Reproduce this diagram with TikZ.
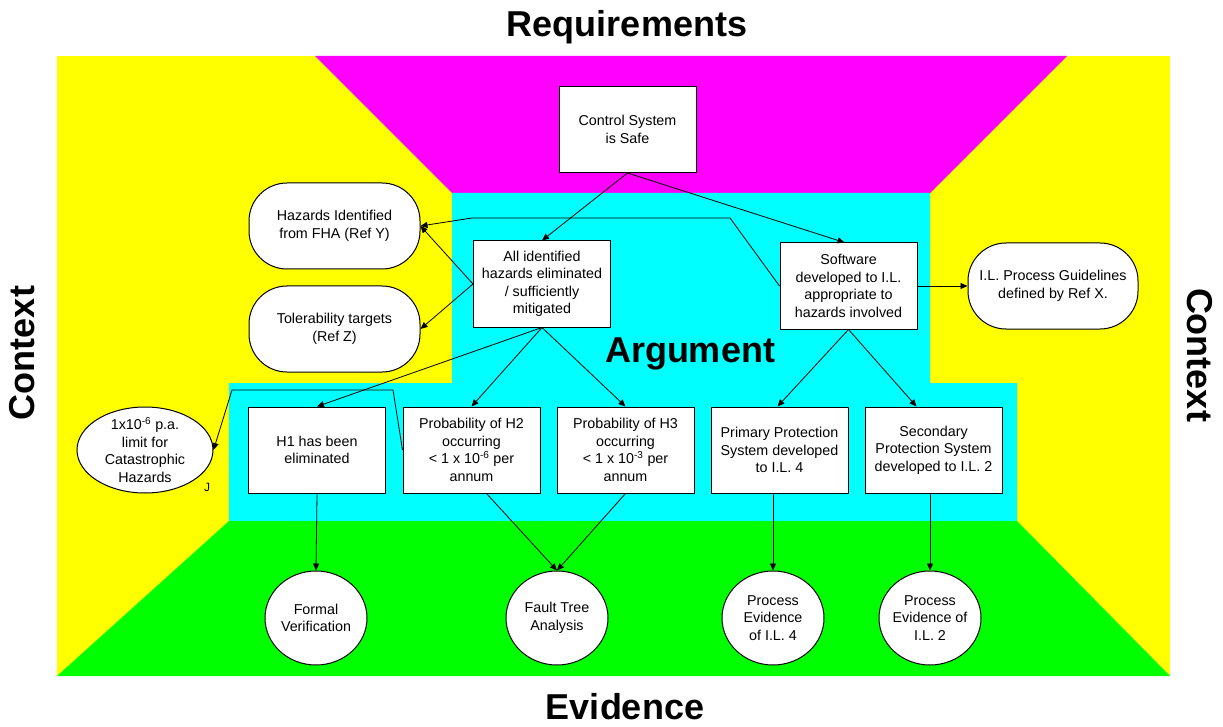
\documentclass[tikz,border=0pt]{standalone}
\usepackage{fontspec}
\setmainfont{Liberation Sans}
\usetikzlibrary{arrows.meta,calc,shapes.geometric}
\newcommand\boxfont{\fontsize{14.3}{17.5}\selectfont}
\newcommand\bigtitlefont{\fontsize{36}{40}\selectfont\bfseries}
\definecolor{cyellow}{RGB}{255,255,0}
\definecolor{cmagenta}{RGB}{255,0,255}
\definecolor{ccyan}{RGB}{0,255,255}
\definecolor{cgreen}{RGB}{0,255,0}
\begin{document}
\begin{tikzpicture}[x=1pt,y=-1pt,
  box/.style={draw=black, line width=1pt, fill=white, minimum width=137pt, minimum height=86pt, inner sep=2pt, align=center, font=\boxfont},
  ctx/.style={box, rounded corners=38pt, minimum width=171pt},
  ell/.style={draw=black, line width=1pt, fill=white, ellipse, align=center, font=\boxfont, inner xsep=0pt, inner ysep=-3pt, minimum width=136pt, minimum height=86pt},
  evid/.style={draw=black, line width=1pt, fill=white, ellipse, align=center, font=\boxfont, inner xsep=-3pt, inner ysep=0pt, minimum width=102pt, minimum height=94pt},
  conn/.style={draw=black, line width=0.8pt, -{Triangle[length=7pt,width=6pt]}},
  bigtitle/.style={font=\bigtitlefont, inner sep=0pt}
]
\useasboundingbox (0,0) rectangle (1223,727);
\fill[white] (0,0) rectangle (1223,727);
% background regions
\fill[cyellow] (57,56) rectangle (1170,676);
\fill[cmagenta] (315,56) -- (1067,56) -- (930,193) -- (452,193) -- cycle;
\fill[ccyan] (452,193) -- (930,193) -- (930,383) -- (1017,383) -- (1017,521) -- (229,521) -- (229,383) -- (452,383) -- cycle;
\fill[cgreen] (229,521) -- (1017,521) -- (1170,676) -- (57,676) -- cycle;
% titles
\node[bigtitle, anchor=base] (treq) at (627,37) {Requirements};
\node[bigtitle, anchor=base] (tevi) at (625,719) {Evidence};
\node[bigtitle, anchor=base] (targ) at (690,362) {Argument};
\node[bigtitle, rotate=90] (tctxl) at (22,353) {Context};
\node[bigtitle, rotate=-90] (tctxr) at (1200,355) {Context};
% goal nodes
\node[box] (ctrl) at (627.5,129.5) {Control System\\is Safe};
\node[box] (all) at (542,284) {All identified\\hazards eliminated\\/ sufficiently\\mitigated};
\node[box] (sw) at (848.5,286) {Software\\developed to I.L.\\appropriate to\\hazards involved};
% context nodes
\node[ctx] (haz) at (334.5,226) {Hazards Identified\\from FHA (Ref Y)};
\node[ctx] (tol) at (334.5,329) {Tolerability targets\\(Ref Z)};
\node[ctx, minimum width=170pt] (ilp) at (1053,286) {I.L. Process Guidelines\\defined by Ref X.};
\node[ell] (lim) at (145,450) {1x10\textsuperscript{-6} p.a.\\limit for\\Catastrophic\\Hazards};
\node[font=\fontsize{12}{14}\selectfont, inner sep=0pt] (jlab) at (207,487) {J};
% sub-goals
\node[box] (h1) at (317,450) {H1 has been\\eliminated};
\node[box] (h2) at (471.5,450) {Probability of H2\\occurring\\< 1 x 10\textsuperscript{-6} per\\annum};
\node[box] (h3) at (625.5,450) {Probability of H3\\occurring\\< 1 x 10\textsuperscript{-3} per\\annum};
\node[box] (prim) at (779.5,450) {Primary Protection\\System developed\\to I.L. 4};
\node[box] (sec) at (933.5,450) {Secondary\\Protection System\\developed to I.L. 2};
% evidence
\node[evid] (fv) at (316,618) {Formal\\Verification};
\node[evid] (fta) at (557,618) {Fault Tree\\Analysis};
\node[evid] (pe4) at (773,618) {Process\\Evidence\\of I.L. 4};
\node[evid] (pe2) at (930,618) {Process\\Evidence of\\I.L. 2};
% connectors
\draw[conn] (ctrl.south) -- (all.north);
\draw[conn] (ctrl.south) -- ($(sw.north)+(-4,0)$);
\draw[conn] (all.west) -- (haz.east);
\draw[conn] (all.west) -- (tol.east);
\coordinate (swa) at (730,218);
\coordinate (swb) at (472,218);
\draw[conn] (sw.west) -- (swa) -- (swb) -- (haz.east);
\draw[conn] (sw.east) -- (ilp.west);
\draw[conn] (all.south) -- (h1.north);
\draw[conn] (all.south) -- (h2.north);
\draw[conn] (all.south) -- (h3.north);
\draw[conn] (sw.south) -- ($(prim.north)+(-2,0)$);
\draw[conn] (sw.south) -- ($(sec.north)+(-17,0)$);
\coordinate (h2a) at (393,390);
\coordinate (h2b) at (232,390);
\draw[conn] (h2.west) -- (h2a) -- (h2b) -- (lim.east);
\draw[conn] (h1.south) -- (fv.north);
\draw[conn] ($(h2.south)+(15,0)$) -- (fta.north);
\draw[conn] (h3.south) -- (fta.north);
\draw[conn] (prim.south -| pe4.north) -- (pe4.north);
\draw[conn] (sec.south -| pe2.north) -- (pe2.north);
\end{tikzpicture}
\end{document}
